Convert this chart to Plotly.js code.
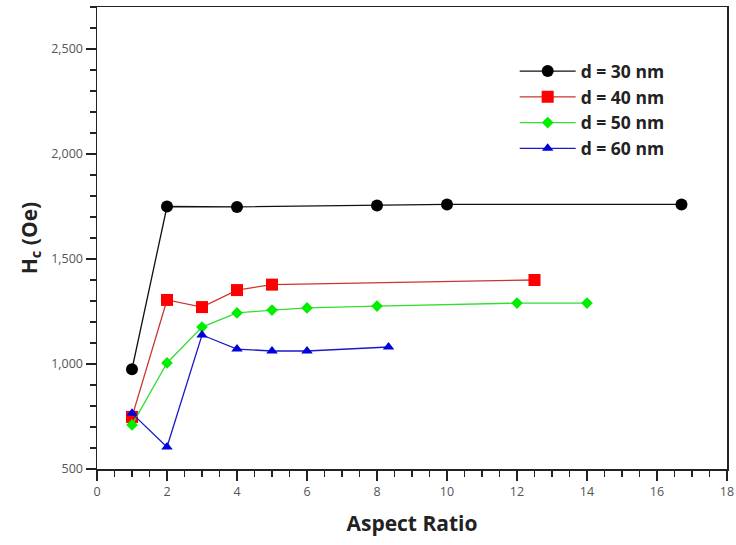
<!DOCTYPE html>
<html>
<head>
<meta charset="utf-8">
<script src="https://cdn.plot.ly/plotly-3.0.1.min.js"></script>
<style>html,body{margin:0;padding:0;background:#fff;}#chart{width:736px;height:545px;}</style>
</head>
<body>
<div id="chart"></div>
<script>
const seriesNames = ["d = 30 nm", "d = 40 nm", "d = 50 nm", "d = 60 nm"];
const x30 = [1, 2, 4, 8, 10, 16.7];
const y30 = [975, 1750, 1748, 1755, 1760, 1760];
const x40 = [1, 2, 3, 4, 5, 12.5];
const y40 = [748, 1305, 1271, 1352, 1378, 1400];
const x50 = [1, 2, 3, 4, 5, 6, 8, 12, 14];
const y50 = [710, 1005, 1176, 1243, 1257, 1267, 1276, 1290, 1290];
const x60 = [1, 2, 3, 4, 5, 6, 8.33];
const y60 = [765, 605, 1138, 1071, 1062, 1062, 1081];

const FONT = "'Open Sans', 'Noto Sans', sans-serif";

const traces = [
  {x: x30, y: y30, name: seriesNames[0], mode: "lines+markers", legendgroup: "a",
   line: {color: "#111111", width: 1.3},
   marker: {symbol: "circle", size: 12, color: "#000000"}},
  {x: x40, y: y40, name: seriesNames[1], mode: "lines+markers", legendgroup: "b",
   line: {color: "#cc3333", width: 1.3},
   marker: {symbol: "square", size: 12, color: "#ff0000"}},
  {x: x50, y: y50, name: seriesNames[2], mode: "lines+markers", legendgroup: "c",
   line: {color: "#33dd33", width: 1.3},
   marker: {symbol: "diamond", size: 9, color: "#00ee00"}},
  {x: x60, y: y60, name: seriesNames[3], mode: "lines+markers", legendgroup: "d",
   line: {color: "#1a1acc", width: 1.3},
   marker: {symbol: "triangle-up", size: 10, color: "#0000dd"}}
];

const layout = {
  width: 736, height: 545,
  margin: {l: 97, r: 9, t: 7, b: 76},
  paper_bgcolor: "#ffffff", plot_bgcolor: "#ffffff",
  font: {family: FONT, color: "#555555", size: 12},
  showlegend: true,
  legend: {
    x: 0.663, y: 0.90, xanchor: "left", yanchor: "top",
    bgcolor: "rgba(0,0,0,0)", borderwidth: 0,
    font: {family: FONT, size: 17.5, color: "#222222", weight: "bold"},
    tracegroupgap: 8, itemwidth: 56, traceorder: "normal"
  },
  xaxis: {
    range: [0, 18], dtick: 2, tick0: 0,
    showgrid: false, zeroline: false,
    showline: true, linecolor: "#222222", linewidth: 1.5, mirror: true,
    ticks: "outside", ticklen: 10, tickwidth: 1.2, tickcolor: "#222222",
    minor: {dtick: 0.5, ticks: "outside", ticklen: 6, tickcolor: "#222222", tickwidth: 1.2, showgrid: false},
    tickfont: {family: FONT, size: 12.5, color: "#555555"},
    title: {text: "Aspect Ratio", font: {family: FONT, size: 21, color: "#222222", weight: "bold"}, standoff: 18}
  },
  yaxis: {
    range: [500, 2700], dtick: 500, tick0: 500,
    tickformat: ",d",
    showgrid: false, zeroline: false,
    showline: true, linecolor: "#222222", linewidth: 1.5, mirror: true,
    ticks: "outside", ticklen: 10, tickwidth: 1.2, tickcolor: "#222222",
    minor: {dtick: 100, ticks: "outside", ticklen: 6, tickcolor: "#222222", tickwidth: 1.2, showgrid: false},
    tickfont: {family: FONT, size: 12.5, color: "#555555"},
    title: {text: "H<sub>c</sub> (Oe)", font: {family: FONT, size: 21, color: "#222222", weight: "bold"}, standoff: 8}
  }
};

Plotly.newPlot("chart", traces, layout, {displayModeBar: false, staticPlot: true});
</script>
</body>
</html>
